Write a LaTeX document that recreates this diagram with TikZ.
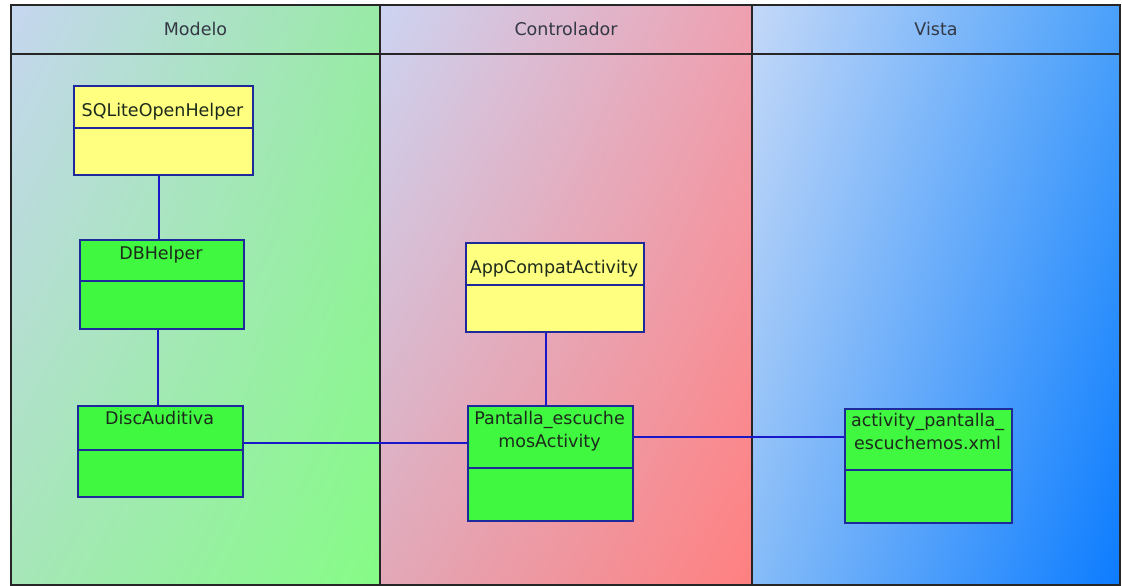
\documentclass[tikz,border=0pt]{standalone}
\usepackage{fontspec}
\setmainfont{DejaVu Sans}
\usetikzlibrary{shadings}
\definecolor{boxblue}{HTML}{1E2A9C}
\definecolor{linkblue}{HTML}{1818C8}
\definecolor{classyellow}{HTML}{FFFF80}
\definecolor{classgreen}{HTML}{40F840}
\definecolor{headtext}{HTML}{333844}
\definecolor{nametext}{HTML}{1C2A1C}
% lane gradients
\definecolor{moUL}{HTML}{C6D6F0}
\definecolor{moUR}{HTML}{98EAA6}
\definecolor{moLL}{HTML}{A6E6B8}
\definecolor{moLR}{HTML}{86FC86}
\definecolor{coUL}{HTML}{CCD4F2}
\definecolor{coUR}{HTML}{EEA0B0}
\definecolor{coLL}{HTML}{E2A8B8}
\definecolor{coLR}{HTML}{FF8080}
\definecolor{viUL}{HTML}{C4D8F8}
\definecolor{viUR}{HTML}{4AA0FA}
\definecolor{viLL}{HTML}{86BCF8}
\definecolor{viLR}{HTML}{0C7CFF}
\begin{document}
\begin{tikzpicture}[x=1pt,y=-1pt,
  frameline/.style={draw=black!85, line width=1.3pt},
  classbox/.style={draw=boxblue, line width=1.6pt, rectangle, anchor=north west, inner sep=0pt},
  yellowbox/.style={classbox, fill=classyellow},
  greenbox/.style={classbox, fill=classgreen},
  divider/.style={draw=boxblue, line width=1.6pt},
  link/.style={draw=linkblue, line width=1.5pt},
  lanetitle/.style={font=\fontsize{17.5}{20}\selectfont, text=headtext, anchor=base, inner sep=0pt},
  classname/.style={font=\fontsize{17.5}{23}\selectfont, text=nametext, anchor=base, align=center, inner sep=0pt},
]
\useasboundingbox (0,0) rectangle (1122,586);
\fill[white] (0,0) rectangle (1122,586);

% swimlanes
\shade[upper left=moUL, upper right=moUR, lower left=moLL, lower right=moLR] (11,5) rectangle (380,585);
\shade[upper left=coUL, upper right=coUR, lower left=coLL, lower right=coLR] (380,5) rectangle (752,585);
\shade[upper left=viUL, upper right=viUR, lower left=viLL, lower right=viLR] (752,5) rectangle (1120,585);
\draw[frameline] (11,5) rectangle (1120,585);
\draw[frameline] (11,54) -- (1120,54);
\draw[frameline] (380,5) -- (380,585);
\draw[frameline] (752,5) -- (752,585);

\node[lanetitle] (tmodelo) at (195.5,36) {Modelo};
\node[lanetitle] (tcontrol) at (566,36) {Controlador};
\node[lanetitle] (tvista) at (936,36) {Vista};

% classes
\node[yellowbox, minimum width=179pt, minimum height=89pt] (sqlite) at (73,85) {};
\draw[divider] (sqlite.west |- 0,128) -- (sqlite.east |- 0,128);
\node[classname] (sqlitet) at (162.5,116) {SQLiteOpenHelper};

\node[greenbox, minimum width=164pt, minimum height=89pt] (dbh) at (79,239) {};
\draw[divider] (dbh.west |- 0,281) -- (dbh.east |- 0,281);
\node[classname] (dbht) at (161,259) {DBHelper};

\node[greenbox, minimum width=165pt, minimum height=91pt] (disc) at (77,405) {};
\draw[divider] (disc.west |- 0,450) -- (disc.east |- 0,450);
\node[classname] (disct) at (159.5,424) {DiscAuditiva};

\node[yellowbox, minimum width=178pt, minimum height=89pt] (app) at (465,242) {};
\draw[divider] (app.west |- 0,285) -- (app.east |- 0,285);
\node[classname] (appt) at (554,273) {AppCompatActivity};

\node[greenbox, minimum width=165pt, minimum height=115pt] (pant) at (467,405) {};
\draw[divider] (pant.west |- 0,468) -- (pant.east |- 0,468);
\node[classname] (pantt) at (549.5,447) {Pantalla\_escuche\\mosActivity};

\node[greenbox, minimum width=167pt, minimum height=114pt] (xml) at (844,408) {};
\draw[divider] (xml.west |- 0,470) -- (xml.east |- 0,470);
\node[classname] (xmlt) at (927.5,449) {activity\_pantalla\_\\escuchemos.xml};

% associations
\draw[link] ([xshift=-4.5pt]sqlite.south) -- ([xshift=-4.5pt]sqlite.south |- dbh.north);
\draw[link] ([xshift=-4pt]dbh.south) -- ([xshift=-4pt]dbh.south |- disc.north);
\draw[link] ([xshift=-9pt]app.south) -- ([xshift=-9pt]app.south |- pant.north);
\draw[link] ([yshift=-38pt]disc.north east) -- ([yshift=-38pt]disc.north east -| pant.west);
\draw[link] ([yshift=-32pt]pant.north east) -- ([yshift=-32pt]pant.north east -| xml.west);
\end{tikzpicture}
\end{document}
